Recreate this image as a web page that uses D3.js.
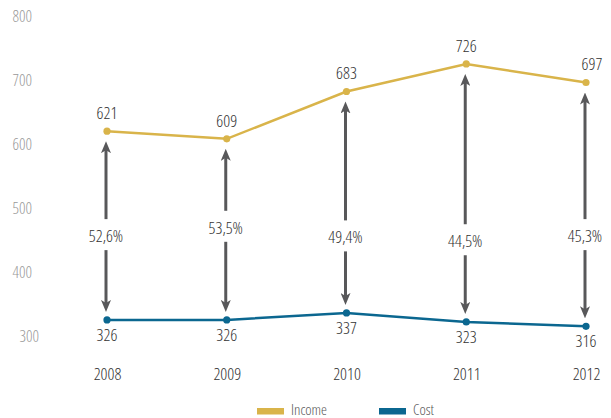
<!DOCTYPE html>
<html>
<head>
<meta charset="utf-8">
<script src="https://cdn.jsdelivr.net/npm/d3@7"></script>
<style>
  body { margin: 0; background: #fff; }
  svg text { font-family: "Open Sans", "DejaVu Sans Condensed", sans-serif; font-stretch: 80%; font-weight: 350; }
</style>
</head>
<body>
<svg width="611" height="418"></svg>
<script>
var years = ["2008", "2009", "2010", "2011", "2012"];
var income = [621, 609, 683, 726, 697];
var cost = [326, 326, 337, 323, 316];
var ratioLabels = ["52,6%", "53,5%", "49,4%", "44,5%", "45,3%"];
// where the ratio label sits on the value axis
var ratioAt = [457, 470, 455, 449, 457];
var yTicks = [300, 400, 500, 600, 700, 800];
var seriesNames = ["Income", "Cost"];
var seriesColors = ["#d9b44a", "#0b6790"];

var svg = d3.select("svg");

var x = d3.scalePoint().domain(years).range([107, 586]);
var y = d3.scaleLinear().domain([300, 800]).range([336.6, 16.6]);

// value axis labels, no lines
var yAxis = svg.append("g")
    .attr("transform", "translate(32,0)")
    .call(d3.axisLeft(y).tickValues(yTicks).tickSize(0).tickPadding(0));
yAxis.select(".domain").remove();
yAxis.selectAll("text")
    .attr("fill", "#999")
    .attr("font-size", 16)
    .attr("dx", function(d) { return d == 300 ? 7 : 0; });

var xAxis = svg.append("g")
    .attr("transform", "translate(0,368)")
    .call(d3.axisBottom(x).tickSize(0).tickPadding(0));
xAxis.select(".domain").remove();
xAxis.selectAll("text")
    .attr("fill", "#333")
    .attr("font-size", 17);

// arrow heads, tip sits 8px past the line end
var defs = svg.append("defs");
defs.append("marker")
    .attr("id", "head")
    .attr("viewBox", "0 0 12 10")
    .attr("refX", 4).attr("refY", 5)
    .attr("markerWidth", 12).attr("markerHeight", 10)
    .attr("markerUnits", "userSpaceOnUse")
    .attr("orient", "auto")
    .append("path")
    .attr("d", "M0,0 L12,5 L0,10 L3,5 Z")
    .attr("fill", "#58585a");

var rows = years.map(function(yr, i) {
    return { year: yr, inc: income[i], cost: cost[i], label: ratioLabels[i], at: ratioAt[i] };
});

var arrows = svg.append("g").attr("class", "arrows");
// up arrows: label -> income
arrows.selectAll(".up")
    .data(rows).enter()
    .append("line")
    .attr("x1", function(d) { return x(d.year) - 1; })
    .attr("x2", function(d) { return x(d.year) - 1; })
    .attr("y1", function(d) { return y(d.at) - 17; })
    .attr("y2", function(d) { return y(d.inc) + 10 + 8; })
    .attr("stroke", "#58585a")
    .attr("stroke-width", 3)
    .attr("marker-end", "url(#head)");
// down arrows: label -> cost
arrows.selectAll(".down")
    .data(rows).enter()
    .append("line")
    .attr("x1", function(d) { return x(d.year) - 1; })
    .attr("x2", function(d) { return x(d.year) - 1; })
    .attr("y1", function(d) { return y(d.at) + 14; })
    .attr("y2", function(d) { return y(d.cost) - 8 - 8; })
    .attr("stroke", "#58585a")
    .attr("stroke-width", 3)
    .attr("marker-end", "url(#head)");

arrows.selectAll(".ratio")
    .data(rows).enter()
    .append("text")
    .attr("x", function(d) { return x(d.year) - 1; })
    .attr("y", function(d) { return y(d.at); })
    .attr("dy", "0.35em")
    .attr("text-anchor", "middle")
    .attr("font-size", 17)
    .attr("fill", "#333")
    .text(function(d) { return d.label; });

var line = d3.line()
    .x(function(d, i) { return x(years[i]); })
    .y(function(d) { return y(d); });

[income, cost].forEach(function(series, s) {
    var g = svg.append("g");
    g.append("path")
        .datum(series)
        .attr("d", line)
        .attr("fill", "none")
        .attr("stroke", seriesColors[s])
        .attr("stroke-width", 2.5);
    g.selectAll("circle")
        .data(series).enter()
        .append("circle")
        .attr("cx", function(d, i) { return x(years[i]); })
        .attr("cy", function(d) { return y(d); })
        .attr("r", 3.6)
        .attr("fill", seriesColors[s]);
    g.selectAll("text")
        .data(series).enter()
        .append("text")
        .attr("x", function(d, i) { return x(years[i]) + (s == 0 && i == 4 ? 6 : 0); })
        .attr("y", function(d) { return y(d) + (s == 0 ? -18 : 15); })
        .attr("dy", "0.35em")
        .attr("text-anchor", "middle")
        .attr("font-size", 17)
        .attr("fill", "#333")
        .text(function(d) { return d; });
});

// legend
var legend = svg.append("g")
    .selectAll("g")
    .data(seriesNames).enter()
    .append("g")
    .attr("transform", function(d, i) { return "translate(" + (257 + i * 122) + ",408)"; });
legend.append("rect")
    .attr("width", 27).attr("height", 6.5)
    .attr("fill", function(d, i) { return seriesColors[i]; });
legend.append("text")
    .attr("x", 34).attr("y", 1.5)
    .attr("dy", "0.35em")
    .attr("font-size", 15)
    .attr("fill", "#555")
    .text(function(d) { return d; });
</script>
</body>
</html>
